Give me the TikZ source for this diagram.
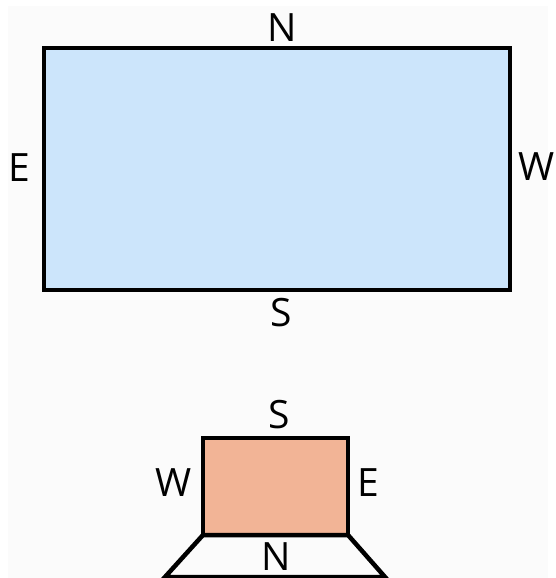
\documentclass[tikz,border=0pt]{standalone}
\usepackage{fontspec}
\setsansfont{Open Sans}
\usepackage{tkz-euclide}
\definecolor{FloorClr}{HTML}{CCE5FB}
\definecolor{RoofClr}{HTML}{F2B496}
\definecolor{PaperClr}{HTML}{FBFBFB}
\tikzset{side/.style={font=\sffamily\fontsize{39}{42}\selectfont,inner sep=0pt}}

\begin{document}
\begin{tikzpicture}[x=1pt,y=-1pt]
\useasboundingbox (0,0) rectangle (556,578);
\fill[PaperClr] (8,6) rectangle (548,578);
\tkzSetUpLine[line width=4.5pt,color=black]

\tkzDefPoints{44/48/A,510/48/B,510/290/C,44/290/D}
\tkzDefPoints{203/438/P,348/438/Q,348/535/R,203/535/T}
\tkzDefPoints{385/577/U,165/577/V}

% plan of the room
\tkzFillPolygon[fill=FloorClr](A,B,C,D)
\tkzDrawPolygon[line join=miter](A,B,C,D)

% the tilted view
\tkzFillPolygon[fill=RoofClr](P,Q,R,T)
\tkzDrawPolygon[line join=miter](P,Q,R,T)
\tkzDrawPolygon[line join=miter](T,R,U,V)

\node[side] (nTop) at (282,28) {N};
\node[side] (eTop) at (19,168) {E};
\node[side] (wTop) at (537,167) {W};
\node[side] (sTop) at (281,313) {S};

\node[side] (sBot) at (279,415) {S};
\node[side] (wBot) at (174,483) {W};
\node[side] (eBot) at (368,483) {E};
\node[side] (nBot) at (276,557) {N};

\end{tikzpicture}
\end{document}
